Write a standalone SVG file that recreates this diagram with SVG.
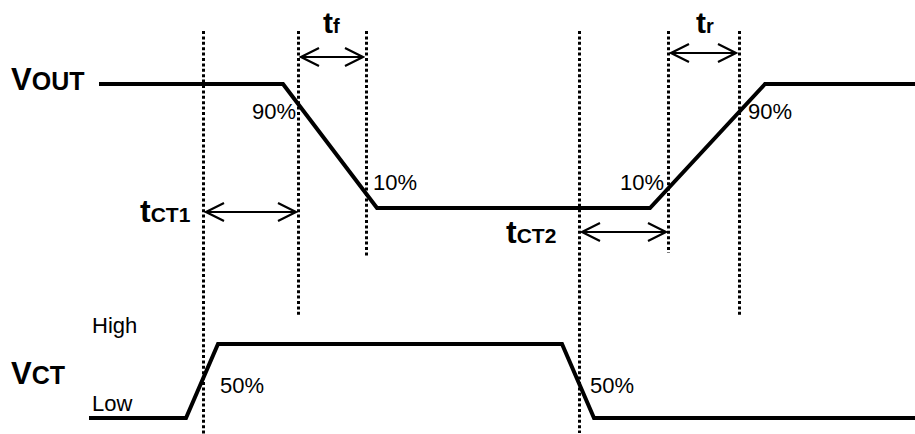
<svg xmlns="http://www.w3.org/2000/svg" width="915" height="434" viewBox="0 0 915 434">
<style>
.wave{fill:none;stroke:#000;stroke-width:4;stroke-linejoin:miter}
.dot{fill:none;stroke:#000;stroke-width:3;stroke-dasharray:3 2.4}
.arr{fill:none;stroke:#000;stroke-width:2.2;marker-start:url(#ah);marker-end:url(#ah)}
.b{font-family:"Liberation Sans",Arial,sans-serif;font-weight:bold;fill:#000}
.r{font-family:"Liberation Sans",Arial,sans-serif;font-size:22px;fill:#000}
</style>
<defs>
<marker id="ah" viewBox="0 0 22 22" refX="20" refY="11" markerWidth="22" markerHeight="22" markerUnits="userSpaceOnUse" orient="auto-start-reverse">
<polyline points="2,2 20,11 2,20" fill="none" stroke="#000" stroke-width="2.2"/>
</marker>
</defs>
<g id="guides">
<line class="dot" x1="203.5" y1="31" x2="203.5" y2="434"/>
<line class="dot" x1="298.5" y1="31" x2="298.5" y2="316"/>
<line class="dot" x1="366.5" y1="31" x2="366.5" y2="257"/>
<line class="dot" x1="579.5" y1="31" x2="579.5" y2="433"/>
<line class="dot" x1="668.5" y1="31" x2="668.5" y2="253"/>
<line class="dot" x1="739.5" y1="31" x2="739.5" y2="315"/>
</g>
<g id="vout">
<polyline class="wave" points="99,84 283,84 377,208 650,208 765,84 915,84"/>
<text class="b" x="11" y="90" font-size="31">V<tspan font-size="25">OUT</tspan></text>
<text class="r" x="252" y="119">90%</text>
<text class="r" x="373" y="190">10%</text>
<text class="r" x="620" y="190">10%</text>
<text class="r" x="748" y="119">90%</text>
</g>
<g id="vct">
<polyline class="wave" points="89,418 186,418 218,344 562,344 594,418 915,418"/>
<text class="b" x="11" y="384" font-size="31">V<tspan font-size="25">CT</tspan></text>
<text class="r" x="92" y="333">High</text>
<text class="r" x="92" y="411">Low</text>
<text class="r" x="220" y="393">50%</text>
<text class="r" x="590" y="393">50%</text>
</g>
<g id="connectors">
<line class="arr" x1="301" y1="57" x2="363" y2="57"/>
<line class="arr" x1="671" y1="53" x2="736" y2="53"/>
<line class="arr" x1="206" y1="212" x2="296" y2="212"/>
<line class="arr" x1="582" y1="232" x2="666" y2="232"/>
</g>
<g id="labels">
<text class="b" x="323" y="33" font-size="30">t<tspan font-size="20">f</tspan></text>
<text class="b" x="696" y="33" font-size="30">t<tspan font-size="20">r</tspan></text>
<text class="b" x="140" y="222" font-size="32">t<tspan font-size="21">CT1</tspan></text>
<text class="b" x="506" y="243" font-size="32">t<tspan font-size="21">CT2</tspan></text>
</g>
</svg>
